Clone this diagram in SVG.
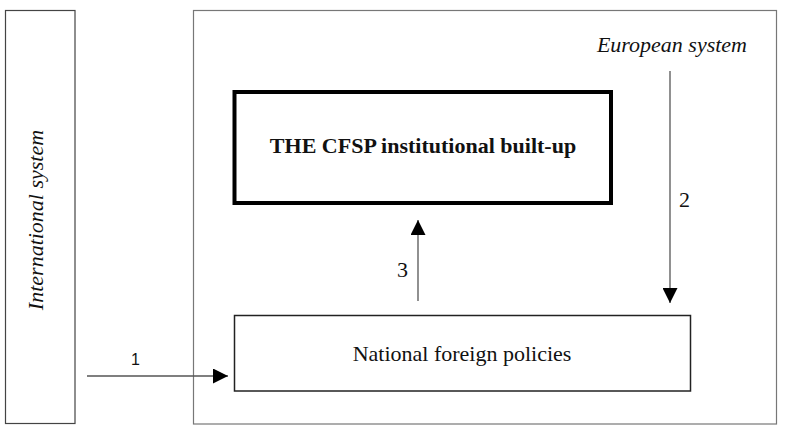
<svg xmlns="http://www.w3.org/2000/svg" width="786" height="426" viewBox="0 0 786 426">
  <style>
    .serif { font-family: "Liberation Serif", "Times New Roman", serif; font-size: 22px; fill: #111; }
    .it { font-style: italic; }
    .bold { font-weight: bold; }
    .sans { font-family: "Liberation Sans", Arial, sans-serif; font-size: 16px; fill: #111; }
    .conn { stroke: #555; stroke-width: 1.3; fill: none; }
  </style>
  <defs>
    <marker id="arrow" markerUnits="userSpaceOnUse" markerWidth="15" markerHeight="15" refX="15" refY="7.5" orient="auto">
      <path d="M0,0 L15,7.5 L0,15 Z" fill="#000"/>
    </marker>
  </defs>
  <rect width="786" height="426" fill="#fff"/>

  <g id="international-system">
    <rect x="5.5" y="10.5" width="69.5" height="413" fill="none" stroke="#444" stroke-width="1.2"/>
    <text class="serif it" transform="translate(43,220) rotate(-90)" text-anchor="middle">International system</text>
  </g>

  <g id="european-system">
    <rect x="193.5" y="10.5" width="583" height="413.5" fill="none" stroke="#777" stroke-width="1.2"/>
    <text class="serif it" x="747" y="52" text-anchor="end">European system</text>
  </g>

  <g id="cfsp">
    <rect x="234.5" y="92" width="376.5" height="111" fill="#fff" stroke="#000" stroke-width="4"/>
    <text class="serif bold" x="423" y="153" text-anchor="middle">THE CFSP institutional built-up</text>
  </g>

  <g id="national">
    <rect x="234.5" y="315.5" width="456" height="75.5" fill="#fff" stroke="#222" stroke-width="1.5"/>
    <text class="serif" x="462" y="361" text-anchor="middle">National foreign policies</text>
  </g>

  <g id="connectors">
    <line class="conn" x1="87" y1="376" x2="228" y2="376" marker-end="url(#arrow)"/>
    <text class="sans" x="135.5" y="365" text-anchor="middle">1</text>
    <line class="conn" x1="670" y1="71" x2="670" y2="303" marker-end="url(#arrow)"/>
    <text class="serif" x="684.5" y="207" text-anchor="middle">2</text>
    <line class="conn" x1="418" y1="301" x2="418" y2="220" marker-end="url(#arrow)"/>
    <text class="serif" x="402.5" y="277" text-anchor="middle">3</text>
  </g>
</svg>
